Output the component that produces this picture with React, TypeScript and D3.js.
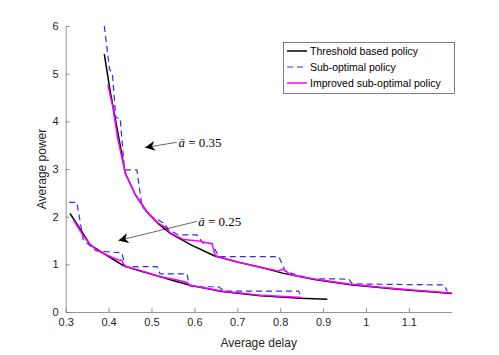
import React, { useEffect, useRef } from 'react';
import * as d3 from 'd3';

// a = 0.35 curves
const thrHiX = [0.39, 0.404, 0.419, 0.439, 0.463, 0.489, 0.515, 0.544, 0.59, 0.646, 0.7, 0.754, 0.808, 0.88, 0.964, 1.08, 1.2];
const thrHiY = [5.41, 4.62, 3.89, 2.91, 2.45, 2.11, 1.86, 1.65, 1.42, 1.18, 1.05, 0.94, 0.81, 0.68, 0.57, 0.47, 0.39];
const subHiX = [0.39, 0.402, 0.409, 0.417, 0.427, 0.437, 0.466, 0.478, 0.5, 0.516, 0.53, 0.54, 0.563, 0.606, 0.621, 0.641, 0.657, 0.797, 0.812, 0.87, 0.96, 0.968, 1.182, 1.19];
const subHiY = [6.0, 5.1, 4.98, 4.07, 4.07, 2.98, 2.98, 2.21, 2.0, 1.93, 1.86, 1.72, 1.62, 1.62, 1.44, 1.44, 1.16, 1.16, 0.85, 0.7, 0.69, 0.59, 0.567, 0.43];
const impHiX = [0.398, 0.41, 0.421, 0.439, 0.463, 0.489, 0.515, 0.532, 0.544, 0.575, 0.61, 0.641, 0.649, 0.7, 0.754, 0.795, 0.808, 0.824, 0.88, 0.964, 1.08, 1.2];
const impHiY = [4.77, 4.3, 3.65, 2.91, 2.45, 2.1, 1.87, 1.78, 1.66, 1.52, 1.49, 1.43, 1.18, 1.05, 0.94, 0.86, 0.9, 0.78, 0.69, 0.58, 0.48, 0.4];

// a = 0.25 curves
const thrLoX = [0.31, 0.335, 0.357, 0.39, 0.435, 0.474, 0.513, 0.55, 0.59, 0.664, 0.754, 0.847, 0.91];
const thrLoY = [2.07, 1.72, 1.41, 1.22, 0.97, 0.86, 0.76, 0.66, 0.56, 0.43, 0.34, 0.29, 0.27];
const subLoX = [0.308, 0.326, 0.341, 0.372, 0.431, 0.439, 0.513, 0.52, 0.583, 0.588, 0.597, 0.657, 0.668, 0.843, 0.851];
const subLoY = [2.3, 2.3, 1.51, 1.28, 1.24, 0.95, 0.95, 0.8, 0.8, 0.55, 0.53, 0.53, 0.44, 0.44, 0.29];
const impLoX = [0.318, 0.341, 0.357, 0.372, 0.4, 0.423, 0.431, 0.437, 0.474, 0.52, 0.555, 0.583, 0.59, 0.664, 0.754, 0.843, 0.851];
const impLoY = [1.93, 1.6, 1.42, 1.3, 1.18, 1.09, 1.08, 0.96, 0.87, 0.74, 0.68, 0.62, 0.56, 0.44, 0.35, 0.31, 0.3];

const xTicks = [0.3, 0.4, 0.5, 0.6, 0.7, 0.8, 0.9, 1, 1.1];
const yTicks = [0, 1, 2, 3, 4, 5, 6];
const legendLabels = ['Threshold based policy', 'Sub-optimal policy', 'Improved sub-optimal policy'];
const annoLabels = ['0.35', '0.25'];
// arrow [textX, textY, fromX, fromY, toX, toY] in data units
const annoPos = [
  [0.563, 3.46, 0.559, 3.56, 0.485, 3.45],
  [0.609, 1.81, 0.606, 1.9, 0.423, 1.5],
];

const W = 499, H = 355;
const left = 65.7, right = 451.7, top = 26, bottom = 312;

const zip = (xs: number[], ys: number[]) => xs.map((x, i) => [x, ys[i]] as [number, number]);

export default function App() {
  const ref = useRef<SVGSVGElement>(null);
  useEffect(() => {
    const svg = d3.select(ref.current);
    svg.selectAll('*').remove();
    const x = d3.scaleLinear().domain([0.3, 1.2]).range([left, right]);
    const y = d3.scaleLinear().domain([0, 6]).range([bottom, top]);
    const font = 'Liberation Sans, Arial, sans-serif';

    const defs = svg.append('defs');
    defs.append('marker').attr('id', 'ah').attr('viewBox', '0 0 10 10').attr('refX', 10).attr('refY', 5)
      .attr('markerWidth', 10).attr('markerHeight', 10).attr('markerUnits', 'userSpaceOnUse').attr('orient', 'auto')
      .append('path').attr('d', 'M0,0 L10,5 L0,10 L3,5 Z').attr('fill', '#000');

    const fmt = d3.format('~g') as any;
    const xAxis = svg.append('g').attr('transform', `translate(0,${bottom})`)
      .call(d3.axisBottom(x).tickValues(xTicks).tickFormat(fmt).tickSizeInner(-4).tickSizeOuter(0).tickPadding(6));
    const yAxis = svg.append('g').attr('transform', `translate(${left},0)`)
      .call(d3.axisLeft(y).tickValues(yTicks).tickFormat(fmt).tickSizeInner(-4).tickSizeOuter(0).tickPadding(7));
    [xAxis, yAxis].forEach(g => {
      g.selectAll('path,line').attr('stroke', '#7a7a7a').attr('stroke-width', 0.8);
      g.selectAll('text').attr('fill', '#262626').style('font-family', font).style('font-size', '11px');
    });

    svg.append('text').attr('x', (left + right) / 2).attr('y', 347).attr('text-anchor', 'middle')
      .style('font-family', font).style('font-size', '12px').attr('fill', '#262626').text('Average delay');
    svg.append('text').attr('transform', `translate(46,${(top + bottom) / 2}) rotate(-90)`).attr('text-anchor', 'middle')
      .style('font-family', font).style('font-size', '12px').attr('fill', '#262626').text('Average power');

    const line = d3.line<[number, number]>().x(d => x(d[0])).y(d => y(d[1]));
    const series = [
      { data: [zip(thrHiX, thrHiY), zip(thrLoX, thrLoY)], color: '#000000', dash: null, w: 1.5 },
      { data: [zip(subHiX, subHiY), zip(subLoX, subLoY)], color: '#2b2bff', dash: '6,4', w: 1.2 },
      { data: [zip(impHiX, impHiY), zip(impLoX, impLoY)], color: '#ff00ff', dash: null, w: 1.5 },
    ];
    series.forEach(s => s.data.forEach(d => {
      svg.append('path').attr('d', line(d)).attr('fill', 'none').attr('stroke', s.color)
        .attr('stroke-width', s.w).attr('stroke-dasharray', s.dash);
    }));

    annoPos.forEach((p, i) => {
      svg.append('line').attr('x1', x(p[2])).attr('y1', y(p[3])).attr('x2', x(p[4])).attr('y2', y(p[5]))
        .attr('stroke', '#000').attr('stroke-width', 0.6).attr('marker-end', 'url(#ah)');
      const t = svg.append('text').attr('x', x(p[0])).attr('y', y(p[1]))
        .style('font-family', 'Liberation Serif, serif').style('font-size', '13px').attr('fill', '#000');
      t.append('tspan').style('font-style', 'italic').text('ā');
      t.append('tspan').text(` = ${annoLabels[i]}`);
    });

    const lg = svg.append('g');
    lg.append('rect').attr('x', 283.5).attr('y', 42.5).attr('width', 171).attr('height', 51)
      .attr('fill', '#fff').attr('stroke', '#262626').attr('stroke-width', 0.6);
    legendLabels.forEach((lab, i) => {
      const yy = 51 + i * 16;
      const s = series[i];
      lg.append('line').attr('x1', 287).attr('x2', 307).attr('y1', yy).attr('y2', yy)
        .attr('stroke', s.color).attr('stroke-width', s.w).attr('stroke-dasharray', s.dash);
      lg.append('text').attr('x', 310).attr('y', yy).attr('dy', '0.35em')
        .style('font-family', font).style('font-size', '10.5px').attr('fill', '#000').text(lab);
    });
  }, []);
  return <svg ref={ref} width={W} height={H} style={{ position: 'absolute', left: 0, top: 0, background: '#fff' }} />;
}
